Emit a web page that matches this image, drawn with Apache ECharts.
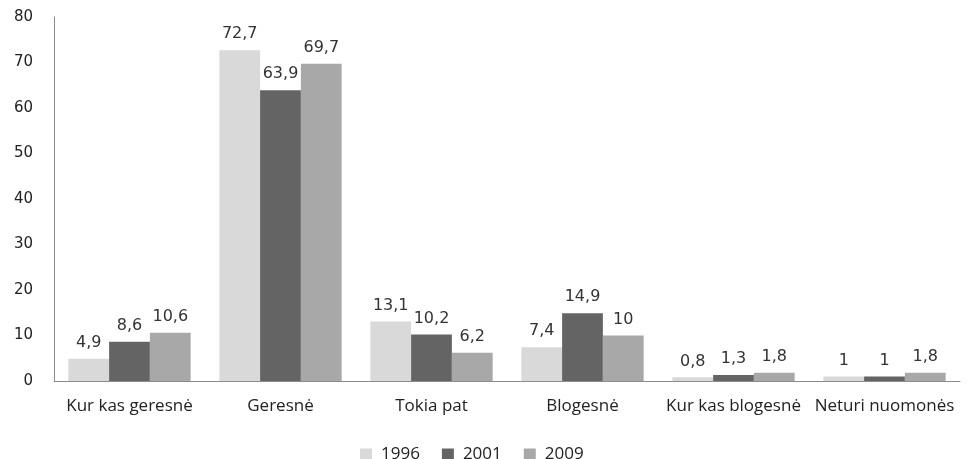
<!DOCTYPE html>
<html><head><meta charset="utf-8">
<script src="https://cdn.jsdelivr.net/npm/echarts@6/dist/echarts.min.js"></script>
<style>html,body{margin:0;padding:0;background:#fff}#c{width:974px;height:459px}</style>
</head><body><div id="c"></div>
<script>
const categories = ['Kur kas geresnė','Geresnė','Tokia pat','Blogesnė','Kur kas blogesnė','Neturi nuomonės'];
const seriesNames = ['1996','2001','2009'];
const v1996 = [4.9, 72.7, 13.1, 7.4, 0.8, 1];
const v2001 = [8.6, 63.9, 10.2, 14.9, 1.3, 1];
const v2009 = [10.6, 69.7, 6.2, 10, 1.8, 1.8];
const yTicks = [0,10,20,30,40,50,60,70,80];
const colors = ['#d9d9d9','#646464','#a8a8a8'];
const data = [v1996, v2001, v2009];
const chart = echarts.init(document.getElementById('c'));
chart.setOption({
  animation:false,
  grid:{left:54,right:14,top:17,bottom:78},
  legend:{top:441,left:355,itemWidth:12,itemHeight:12,itemGap:22,
    textStyle:{fontFamily:'Open Sans',fontSize:17,color:'#222',padding:[0,0,0,4]},icon:'rect'},
  xAxis:{type:'category',data:categories,
    axisLine:{lineStyle:{color:'#8c8c8c',width:1}},axisTick:{show:false},
    axisLabel:{fontFamily:'Open Sans',fontSize:17,color:'#222',margin:17,interval:0}},
  yAxis:{type:'value',min:0,max:80,interval:10,
    axisLine:{show:true,lineStyle:{color:'#8c8c8c',width:1}},axisTick:{show:false},splitLine:{show:false},
    axisLabel:{fontFamily:'DejaVu Sans',fontSize:15,color:'#222',margin:21,
      formatter:v=>yTicks.includes(v)?String(v):''}},
  series:data.map((d,i)=>({
    name:seriesNames[i],type:'bar',data:d,barGap:'0%',barCategoryGap:'19%',
    itemStyle:{color:colors[i]},
    label:{show:true,position:'top',distance:8,fontFamily:'DejaVu Sans',fontSize:16,color:'#333',
      formatter:p=>String(p.value).replace('.',',')}
  }))
});
</script></body></html>
